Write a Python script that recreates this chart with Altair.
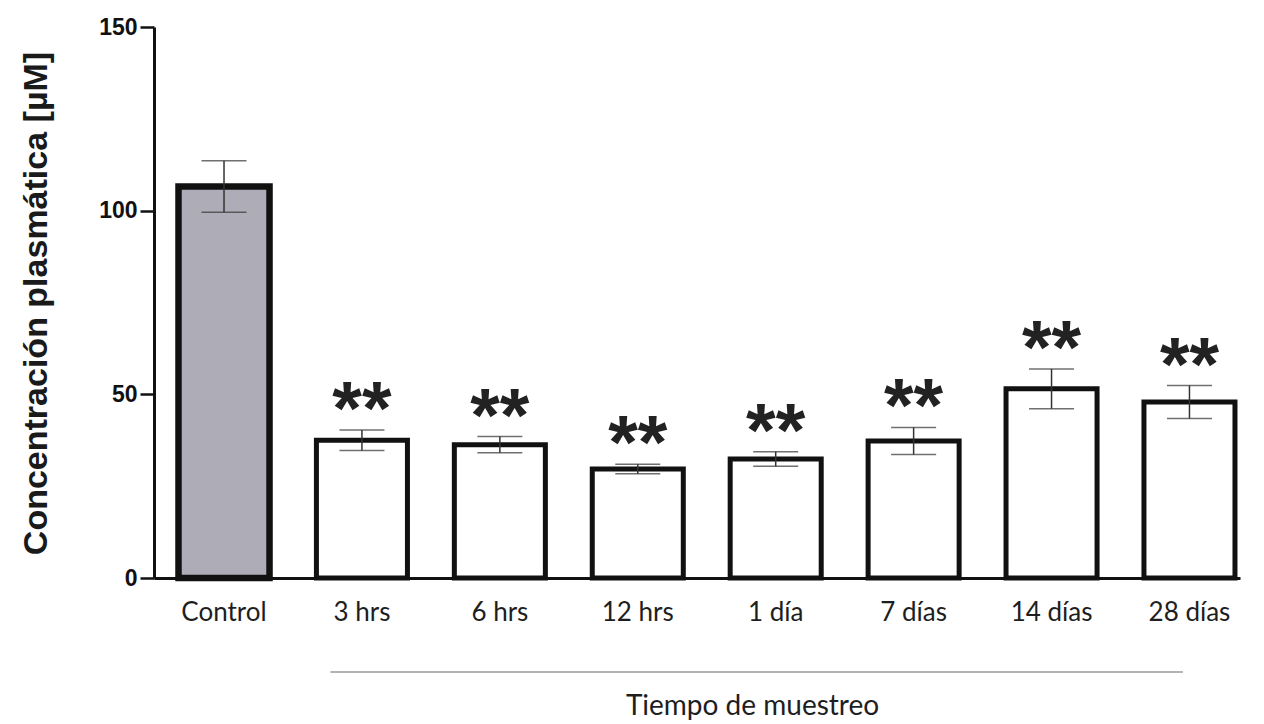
import altair as alt
import pandas as pd

groups = ["Control", "3 hrs", "6 hrs", "12 hrs", "1 día", "7 días", "14 días", "28 días"]
means = [106.6, 37.5, 36.3, 29.7, 32.4, 37.3, 51.5, 47.9]
sems = [7.0, 2.8, 2.2, 1.3, 2.0, 3.7, 5.4, 4.5]
sig = ["", "**", "**", "**", "**", "**", "**", "**"]
y_ticks = [0, 50, 100, 150]

df = pd.DataFrame({"group": groups, "mean": means, "sem": sems, "sig": sig})
df["lo"] = df["mean"] - df["sem"]
df["hi"] = df["mean"] + df["sem"]

xscale = alt.Scale(domain=groups, paddingInner=0.34, paddingOuter=0.107, align=0.83)
yscale = alt.Scale(domain=[0, 150], nice=False)

x = alt.X(
    "group:N",
    scale=xscale,
    axis=alt.Axis(
        title="Tiempo de muestreo",
        labelAngle=0,
        ticks=False,
        labelFont="Lato",
        labelFontSize=26,
        labelColor="#1e1e1e",
        labelPadding=21,
        domainColor="#111111",
        domainWidth=3,
        titleFont="Lato",
        titleFontSize=28,
        titleFontWeight="normal",
        titleColor="#1e1e1e",
        titleX=598,
        titleY=136,
        titleBaseline="alphabetic",
        titleAlign="center",
    ),
)

y_axis = alt.Axis(
    title="Concentración plasmática [µM]",
    values=y_ticks,
    grid=False,
    labelFont="Liberation Sans",
    labelFontWeight="bold",
    labelFontSize=23,
    labelColor="#111111",
    labelPadding=3,
    tickSize=14,
    tickWidth=2.5,
    tickColor="#111111",
    domainColor="#111111",
    domainWidth=3,
    titleFont="Liberation Sans",
    titleFontWeight="bold",
    titleFontSize=34,
    titleColor="#1a1a1a",
    titleX=-108,
    titleY=276,
    titleBaseline="alphabetic",
    titleAlign="center",
)

base = alt.Chart(df)

bars = base.mark_bar(stroke="#111111").encode(
    x=x,
    y=alt.Y("mean:Q", scale=yscale, axis=y_axis),
    fill=alt.condition(alt.datum.group == "Control", alt.value("#aeadb7"), alt.value("#ffffff")),
    strokeWidth=alt.condition(alt.datum.group == "Control", alt.value(6.5), alt.value(5)),
)

err = base.mark_rule(color="#333333", strokeWidth=1.5).encode(
    x=alt.X("group:N", scale=xscale),
    y=alt.Y("lo:Q", scale=yscale),
    y2="hi:Q",
)

cap_lo = base.mark_tick(color="#333333", thickness=1.5, size=45, orient="horizontal").encode(
    x=alt.X("group:N", scale=xscale),
    y=alt.Y("lo:Q", scale=yscale),
)
cap_hi = base.mark_tick(color="#333333", thickness=1.5, size=45, orient="horizontal").encode(
    x=alt.X("group:N", scale=xscale),
    y=alt.Y("hi:Q", scale=yscale),
)

stars = base.mark_text(
    font="Liberation Sans", fontWeight="bold", fontSize=76, baseline="alphabetic", dy=4, color="#222222"
).encode(
    x=alt.X("group:N", scale=xscale),
    y=alt.Y("hi:Q", scale=yscale),
    text="sig:N",
)

bracket = alt.Chart(pd.DataFrame({"k": [0]})).mark_rule(
    color="#9a9a9a", strokeWidth=1.5, xOffset=-31.5, x2Offset=-6.5
).encode(
    x=alt.XDatum("3 hrs", type="nominal"),
    x2=alt.X2Datum("28 días"),
    y=alt.value(645),
)

chart = (
    alt.layer(bars, err, cap_lo, cap_hi, stars, bracket)
    .properties(
        width=1086,
        height=551,
        autosize=alt.AutoSizeParams(type="none"),
        padding={"left": 154, "top": 27, "right": 24, "bottom": 146},
        background="white",
    )
    .configure_view(stroke=None)
)

chart.save("out.html", embed_options={"renderer": "svg", "actions": False})
